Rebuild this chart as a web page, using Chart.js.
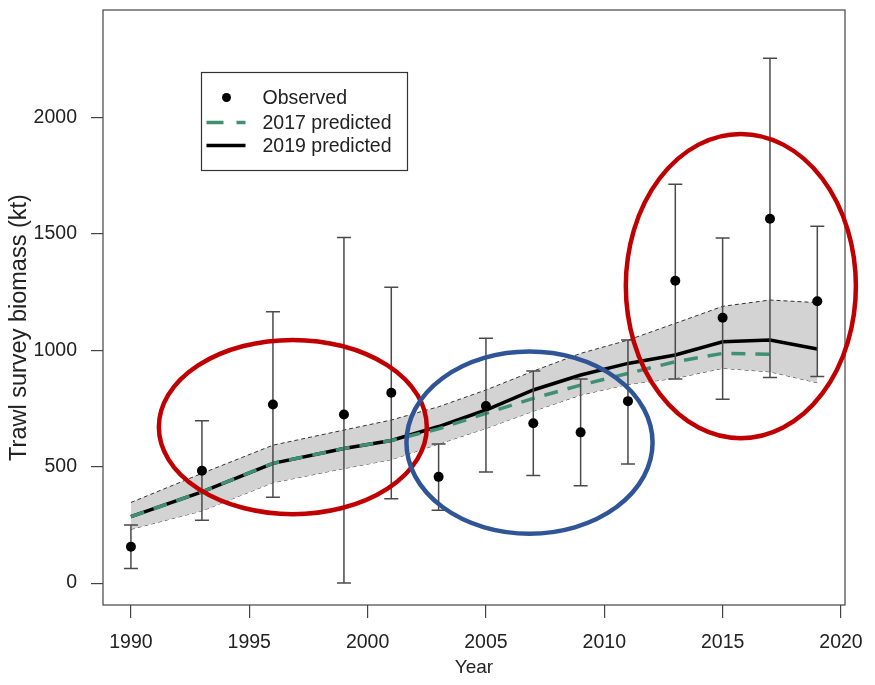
<!DOCTYPE html>
<html>
<head>
<meta charset="utf-8">
<script src="https://cdn.jsdelivr.net/npm/chart.js@4"></script>
<style>
  html, body { margin: 0; padding: 0; background: #ffffff; }
  #wrap { width: 875px; height: 685px; position: relative; }
</style>
</head>
<body>
<div id="wrap"><canvas id="c" width="875" height="685"></canvas></div>
<script>
// ---- data ----
const years      = [1990, 1993, 1996, 1999, 2001, 2003, 2005, 2007, 2009, 2011, 2013, 2015, 2017, 2019];
const observed   = [156, 482, 767, 724, 817, 456, 760, 686, 647, 781, 1298, 1139, 1564, 1210];
const obsLower   = [63, 270, 368, 0, 362, 313, 477, 462, 418, 511, 876, 789, 883, 887];
const obsUpper   = [249, 697, 1165, 1483, 1270, 597, 1051, 910, 876, 1043, 1712, 1481, 2253, 1532];
const pred2019   = [285, 392, 514, 578, 612, 672, 743, 829, 893, 943, 979, 1036, 1043, 1005];
const pred2017   = [285, 392, 514, 578, 612, 662, 729, 793, 850, 900, 950, 986, 982, null];
const bandUpper  = [346, 471, 592, 657, 700, 757, 829, 910, 986, 1043, 1115, 1188, 1215, 1204];
const bandLower  = [231, 310, 431, 492, 530, 597, 664, 738, 807, 853, 879, 922, 907, 860];
const xTickLabels = [1990, 1995, 2000, 2005, 2010, 2015, 2020];
const yTickLabels = [0, 500, 1000, 1500, 2000];
const seriesNames = ['Observed', '2017 predicted', '2019 predicted'];
const xTitle = 'Year';
const yTitle = 'Trawl survey biomass (kt)';
// annotation ellipses: [centre year, centre value, radius in years, radius in value units, colour]
const ellipses = [
  [1996.84, 670, 5.66, 374, '#C00000'],
  [2006.84, 603, 5.20, 391, '#2F5597'],
  [2015.77, 1275, 4.86, 653, '#C00000']
];
const legendAnchor = [1992.95, 2195];

const FONT = '"Liberation Sans", Arial, sans-serif';
const TXT = '#222222';
const GREEN = '#3F8F72';

function pts(vals) {
  const out = [];
  years.forEach((y, i) => { if (vals[i] !== null && vals[i] !== undefined) out.push({ x: y, y: vals[i] }); });
  return out;
}

const errorBars = {
  id: 'errorBars',
  beforeDatasetDraw(chart, args) {
    if (args.index !== 0) return;
    const ctx = chart.ctx, xs = chart.scales.x, ys = chart.scales.y;
    ctx.save();
    ctx.strokeStyle = '#4a4a4a';
    ctx.lineWidth = 1.5;
    years.forEach((yr, i) => {
      const px = xs.getPixelForValue(yr);
      const lo = ys.getPixelForValue(obsLower[i]);
      const hi = ys.getPixelForValue(obsUpper[i]);
      ctx.beginPath();
      ctx.moveTo(px, lo); ctx.lineTo(px, hi);
      ctx.moveTo(px - 7, lo); ctx.lineTo(px + 7, lo);
      ctx.moveTo(px - 7, hi); ctx.lineTo(px + 7, hi);
      ctx.stroke();
    });
    ctx.restore();
  }
};

const decorations = {
  id: 'decorations',
  afterDraw(chart) {
    const ctx = chart.ctx, a = chart.chartArea, xs = chart.scales.x, ys = chart.scales.y;
    ctx.save();
    // plot box
    ctx.strokeStyle = '#444';
    ctx.lineWidth = 1.2;
    ctx.strokeRect(a.left, a.top, a.right - a.left, a.bottom - a.top);

    // y axis title (larger, offset as in the reference)
    ctx.save();
    ctx.translate(19.5, (a.top + a.bottom) / 2 + 20);
    ctx.rotate(-Math.PI / 2);
    ctx.fillStyle = TXT;
    ctx.font = '23.5px ' + FONT;
    ctx.textAlign = 'center';
    ctx.textBaseline = 'middle';
    ctx.fillText(yTitle, 0, 0);
    ctx.restore();

    // legend
    const lx = Math.round(xs.getPixelForValue(legendAnchor[0])) + 0.5;
    const ly = Math.round(ys.getPixelForValue(legendAnchor[1])) + 0.5;
    ctx.fillStyle = '#fff';
    ctx.fillRect(lx, ly, 206, 98);
    ctx.strokeStyle = '#333';
    ctx.lineWidth = 1.2;
    ctx.strokeRect(lx, ly, 206, 98);
    const rows = [ly + 25, ly + 50, ly + 73];
    ctx.fillStyle = '#000';
    ctx.beginPath(); ctx.arc(lx + 25, rows[0], 4.5, 0, Math.PI * 2); ctx.fill();
    ctx.strokeStyle = GREEN; ctx.lineWidth = 3.5; ctx.setLineDash([17, 13]);
    ctx.beginPath(); ctx.moveTo(lx + 5, rows[1]); ctx.lineTo(lx + 44, rows[1]); ctx.stroke();
    ctx.setLineDash([]);
    ctx.strokeStyle = '#000'; ctx.lineWidth = 3.5;
    ctx.beginPath(); ctx.moveTo(lx + 5, rows[2]); ctx.lineTo(lx + 44, rows[2]); ctx.stroke();
    ctx.fillStyle = TXT;
    ctx.font = '19.5px ' + FONT;
    ctx.textBaseline = 'middle';
    ctx.textAlign = 'left';
    seriesNames.forEach((s, i) => ctx.fillText(s, lx + 61, rows[i] + 1));

    // annotation ellipses
    ctx.lineWidth = 4.5;
    ellipses.forEach(e => {
      const cx = xs.getPixelForValue(e[0]);
      const cy = ys.getPixelForValue(e[1]);
      const rx = Math.abs(xs.getPixelForValue(e[0] + e[2]) - cx);
      const ry = Math.abs(ys.getPixelForValue(e[1] + e[3]) - cy);
      ctx.strokeStyle = e[4];
      ctx.beginPath();
      ctx.ellipse(cx, cy, rx, ry, 0, 0, Math.PI * 2);
      ctx.stroke();
    });
    ctx.restore();
  }
};

new Chart(document.getElementById('c'), {
  type: 'scatter',
  data: {
    datasets: [
      { label: 'Observed', data: pts(observed), showLine: false,
        pointRadius: 5, pointHoverRadius: 5, backgroundColor: '#000', borderColor: '#000', borderWidth: 0 },
      { label: '2017 predicted', data: pts(pred2017), showLine: true, pointRadius: 0,
        borderColor: GREEN, borderWidth: 3.5, borderDash: [14, 10], tension: 0, fill: false },
      { label: '2019 predicted', data: pts(pred2019), showLine: true, pointRadius: 0,
        borderColor: '#000', borderWidth: 3.5, tension: 0, fill: false },
      { label: 'upper', data: pts(bandUpper), showLine: true, pointRadius: 0,
        borderColor: '#333', borderWidth: 1, borderDash: [4, 3], tension: 0,
        fill: '+1', backgroundColor: '#D3D3D3' },
      { label: 'lower', data: pts(bandLower), showLine: true, pointRadius: 0,
        borderColor: '#333', borderWidth: 1, borderDash: [4, 3], tension: 0, fill: false }
    ]
  },
  options: {
    responsive: false,
    animation: false,
    devicePixelRatio: 1,
    layout: { padding: { top: 10, right: 30, left: 0, bottom: 0 } },
    plugins: { legend: { display: false }, tooltip: { enabled: false } },
    scales: {
      x: {
        type: 'linear', min: 1988.82, max: 2020.17,
        afterBuildTicks: s => { s.ticks = xTickLabels.map(v => ({ value: v })); },
        afterFit: s => { s.height = 80; s.paddingLeft = 0; s.paddingRight = 0; },
        grid: { display: true, drawOnChartArea: false, drawTicks: true, tickLength: 13, color: '#444', lineWidth: 1.2 },
        border: { display: false },
        ticks: { color: TXT, font: { family: FONT, size: 19.5 }, padding: 13, maxRotation: 0, autoSkip: false,
                 callback: v => String(v) },
        title: { display: true, text: xTitle, color: TXT, font: { family: FONT, size: 19 }, padding: { top: 0, bottom: 6 } }
      },
      y: {
        type: 'linear', min: -94, max: 2460,
        afterBuildTicks: s => { s.ticks = yTickLabels.map(v => ({ value: v })); },
        afterFit: s => { s.width = 103; s.paddingTop = 0; s.paddingBottom = 0; },
        grid: { display: true, drawOnChartArea: false, drawTicks: true, tickLength: 12, color: '#444', lineWidth: 1.2 },
        border: { display: false },
        ticks: { color: TXT, font: { family: FONT, size: 19.5 }, padding: 14, autoSkip: false,
                 callback: v => String(v) },
        title: { display: false }
      }
    }
  },
  plugins: [errorBars, decorations]
});
</script>
</body>
</html>
